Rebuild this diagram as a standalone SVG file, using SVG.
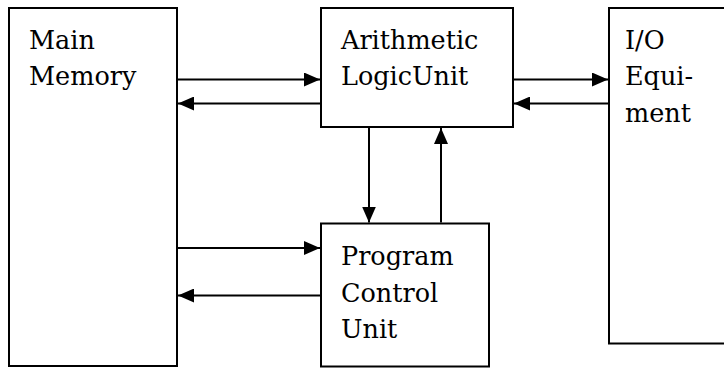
<svg xmlns="http://www.w3.org/2000/svg" width="724" height="368" viewBox="0 0 724 368">
<style>
.box{fill:#fff;stroke:#000;stroke-width:2}
text{font-family:"DejaVu Serif",serif;font-size:25.5px;fill:#000}
.c{stroke:#000;stroke-width:2;fill:none;marker-end:url(#ah)}
</style>
<defs>
<marker id="ah" markerUnits="userSpaceOnUse" markerWidth="16" markerHeight="14" refX="16" refY="7" orient="auto">
<path d="M0,0 L16,7 L0,14 z" fill="#000"/>
</marker>
</defs>
<rect width="724" height="368" fill="#fff"/>
<g id="main-memory">
<rect class="box" x="9" y="8" width="168" height="358"/>
<text x="29" y="48.5">Main</text>
<text x="29" y="85.2">Memory</text>
</g>
<g id="alu">
<rect class="box" x="321" y="8" width="192" height="119"/>
<text x="341" y="48.5">Arithmetic</text>
<text x="341" y="85.2">LogicUnit</text>
</g>
<g id="io">
<rect class="box" x="609" y="8" width="130" height="335.5"/>
<text x="625" y="48.5">I/O</text>
<text x="625" y="85.2">Equi-</text>
<text x="625" y="121.9">ment</text>
</g>
<g id="pcu">
<rect class="box" x="321" y="223.5" width="168" height="143"/>
<text x="341" y="265">Program</text>
<text x="341" y="301.7">Control</text>
<text x="341" y="338.4">Unit</text>
</g>
<g id="connectors">
<line class="c" x1="178" y1="79.5" x2="320" y2="79.5"/>
<line class="c" x1="320" y1="103.5" x2="178" y2="103.5"/>
<line class="c" x1="514" y1="79.5" x2="608" y2="79.5"/>
<line class="c" x1="608" y1="103.5" x2="514" y2="103.5"/>
<line class="c" x1="369" y1="128" x2="369" y2="222.5"/>
<line class="c" x1="441" y1="222.5" x2="441" y2="128"/>
<line class="c" x1="178" y1="248" x2="320" y2="248"/>
<line class="c" x1="320" y1="295.5" x2="178" y2="295.5"/>
</g>
</svg>
